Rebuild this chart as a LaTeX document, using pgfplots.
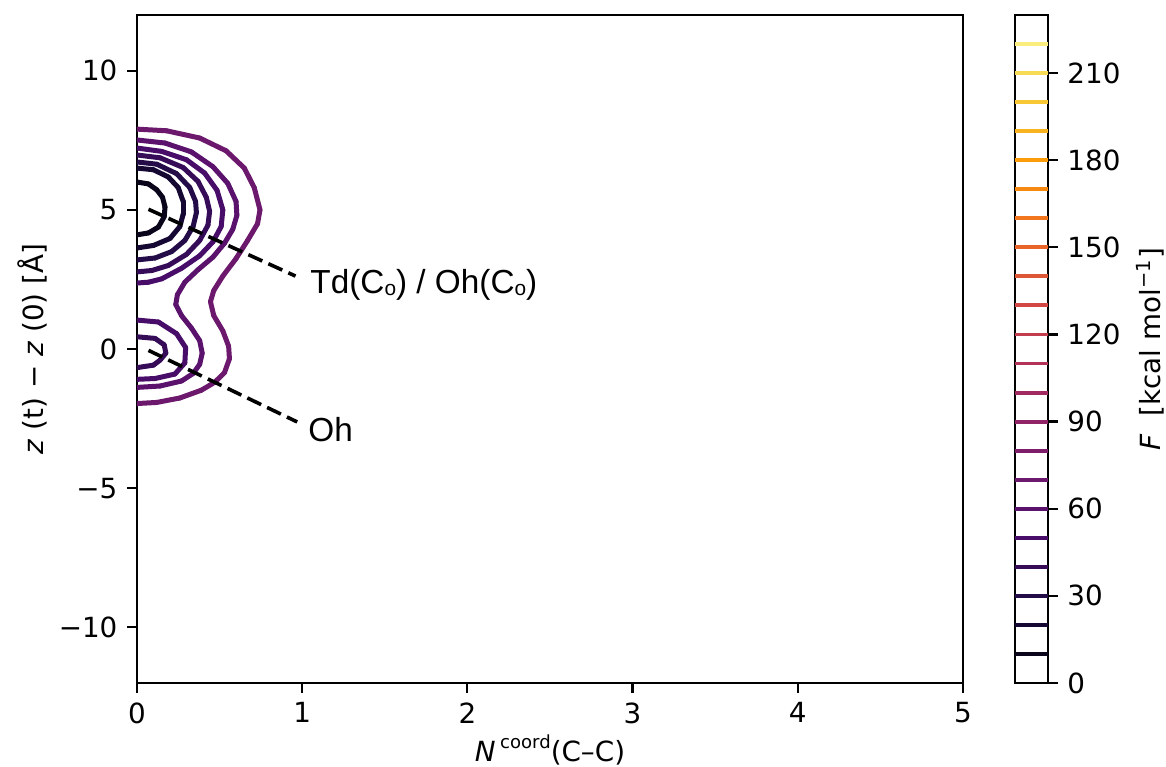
\documentclass[border=0pt]{standalone}
\usepackage{pgfplots}
\pgfplotsset{compat=1.18}
\usepackage{fontspec}
\setmainfont{DejaVu Sans}
\newfontfamily\arialfont{Liberation Sans}
\pgfplotsset{colormap={inferno}{rgb255=(0,0,4) rgb255=(27,12,65) rgb255=(74,12,107) rgb255=(120,28,109) rgb255=(165,44,96) rgb255=(207,68,70) rgb255=(237,105,37) rgb255=(251,155,6) rgb255=(247,209,61) rgb255=(252,255,164)}}
\newcommand{\subo}{\raisebox{-0.5pt}{\fontsize{7.5}{8}\selectfont o}}
\pgfplotsset{cont/.style={mesh, point meta=#1, line width=1.8pt, line cap=round, line join=round}}
\begin{document}
\begin{tikzpicture}
\begin{axis}[name=main, width=297.4pt, height=240.5pt, scale only axis,
  xmin=0, xmax=5, ymin=-12, ymax=12,
  xtick={0,1,2,3,4,5}, ytick={-10,-5,0,5,10}, yticklabels={−10,−5,0,5,10},
  xtick pos=bottom, ytick pos=left,
  tick align=outside, major tick length=3.5pt,
  tick style={black, line width=0.8pt}, axis line style={line width=0.8pt},
  ticklabel style={font=\fontsize{10}{12}\selectfont},
  /pgf/number format/assume math mode=true,
  colormap name=inferno, point meta min=0, point meta max=230,
  xlabel={\textit{N}\,\raisebox{0.85ex}{\fontsize{6.5}{7}\selectfont coord}(C–C)},
  ylabel={\textit{z} (t) − \textit{z} (0) [Å]},
  label style={font=\fontsize{10}{12}\selectfont},
  every axis x label/.style={at={(axis description cs:0.5,0)}, anchor=center, yshift=-24.1pt},
  every axis y label/.style={at={(axis description cs:0,0.5)}, xshift=-37.8pt, rotate=90, anchor=center},
]
% level 10
\addplot[cont=10] coordinates {(0,6.00) (0.07,5.93) (0.12,5.72) (0.155,5.45) (0.17,5.10) (0.165,4.75) (0.13,4.38) (0.07,4.17) (0,4.10)};
% level 20
\addplot[cont=20] coordinates {(0,6.50) (0.10,6.44) (0.19,6.18) (0.25,5.80) (0.28,5.30) (0.28,4.85) (0.26,4.40) (0.20,3.97) (0.10,3.72) (0,3.63)};
% level 30
\addplot[cont=30] coordinates {(0,6.72) (0.12,6.64) (0.24,6.30) (0.32,5.80) (0.355,5.30) (0.36,4.90) (0.34,4.40) (0.29,3.90) (0.21,3.50) (0.11,3.27) (0,3.20)};
% level 40
\addplot[cont=40] coordinates {(0,6.97) (0.14,6.87) (0.28,6.52) (0.37,6.02) (0.42,5.45) (0.44,4.95) (0.43,4.45) (0.38,3.90) (0.30,3.40) (0.19,3.00) (0.09,2.82) (0,2.77)};
\addplot[cont=40] coordinates {(0,0.44) (0.11,0.38) (0.165,0.15) (0.175,-0.15) (0.14,-0.40) (0.10,-0.58) (0,-0.67)};
% level 50
\addplot[cont=50] coordinates {(0,7.22) (0.15,7.10) (0.30,6.80) (0.41,6.32) (0.485,5.70) (0.52,5.00) (0.51,4.40) (0.46,3.85) (0.38,3.35) (0.27,2.90) (0.15,2.52) (0.07,2.40) (0,2.37)};
\addplot[cont=50] coordinates {(0,1.04) (0.13,0.97) (0.24,0.55) (0.295,0.05) (0.29,-0.50) (0.23,-0.90) (0.11,-1.06) (0,-1.09)};
% level 60
\addplot[cont=60] coordinates {(0,7.51) (0.17,7.40) (0.33,7.08) (0.46,6.55) (0.55,5.95) (0.60,5.30) (0.605,4.80) (0.58,4.30) (0.53,3.80) (0.46,3.30) (0.37,2.85) (0.29,2.40) (0.245,1.95) (0.235,1.60) (0.27,1.20) (0.33,0.75) (0.38,0.30) (0.395,-0.15) (0.38,-0.55) (0.34,-0.88) (0.27,-1.15) (0.14,-1.33) (0,-1.38)};
% level 70
\addplot[cont=70] coordinates {(0,7.90) (0.18,7.84) (0.38,7.58) (0.54,7.12) (0.65,6.50) (0.71,5.80) (0.745,5.00) (0.73,4.50) (0.67,3.90) (0.60,3.25) (0.52,2.62) (0.465,2.10) (0.445,1.70) (0.465,1.20) (0.52,0.65) (0.555,0.10) (0.56,-0.35) (0.53,-0.85) (0.47,-1.20) (0.39,-1.48) (0.26,-1.76) (0.12,-1.92) (0,-1.96)};
% annotations
\addplot[black, line width=1.3pt, dash pattern=on 5.5pt off 2.4pt] coordinates {(0.07,5.02) (0.96,2.62)};
\addplot[black, line width=1.3pt, dash pattern=on 5.5pt off 2.4pt] coordinates {(0.07,-0.05) (0.97,-2.62)};
\node[anchor=west, inner sep=0pt, font=\arialfont\fontsize{12}{14}\selectfont] at (axis cs:1.047,2.30) {Td(C\subo) / Oh(C\subo)};
\node[anchor=west, inner sep=0pt, font=\arialfont\fontsize{12}{14}\selectfont] at (axis cs:1.035,-2.91) {Oh};
\end{axis}
\begin{axis}[at={(main.south east)}, xshift=18.7pt, anchor=south west,
  width=11.9pt, height=240.5pt, scale only axis,
  xmin=0, xmax=1, ymin=0, ymax=230,
  xtick=\empty, ytick={0,30,...,210}, ytick pos=right, yticklabel pos=right,
  tick align=outside, major tick length=3.5pt,
  tick style={black, line width=0.8pt}, axis line style={line width=0.8pt},
  ticklabel style={font=\fontsize{10}{12}\selectfont},
  /pgf/number format/assume math mode=true,
  colormap name=inferno, point meta min=0, point meta max=230,
  ylabel={\textit{F}\ \ [kcal mol\textsuperscript{−1}]},
  label style={font=\fontsize{10}{12}\selectfont},
  every axis y label/.style={at={(axis description cs:1,0.5)}, xshift=36.7pt, rotate=90, anchor=center},
]
\pgfplotsinvokeforeach{10,20,...,220}{\addplot[mesh, point meta=#1, line width=1.4pt] coordinates {(0,#1) (1,#1)};}
\end{axis}
\pgfresetboundingbox
\path (main.south west) ++(-49.3pt,-30.2pt) rectangle ++(419.8pt,276.1pt);
\end{tikzpicture}
\end{document}
